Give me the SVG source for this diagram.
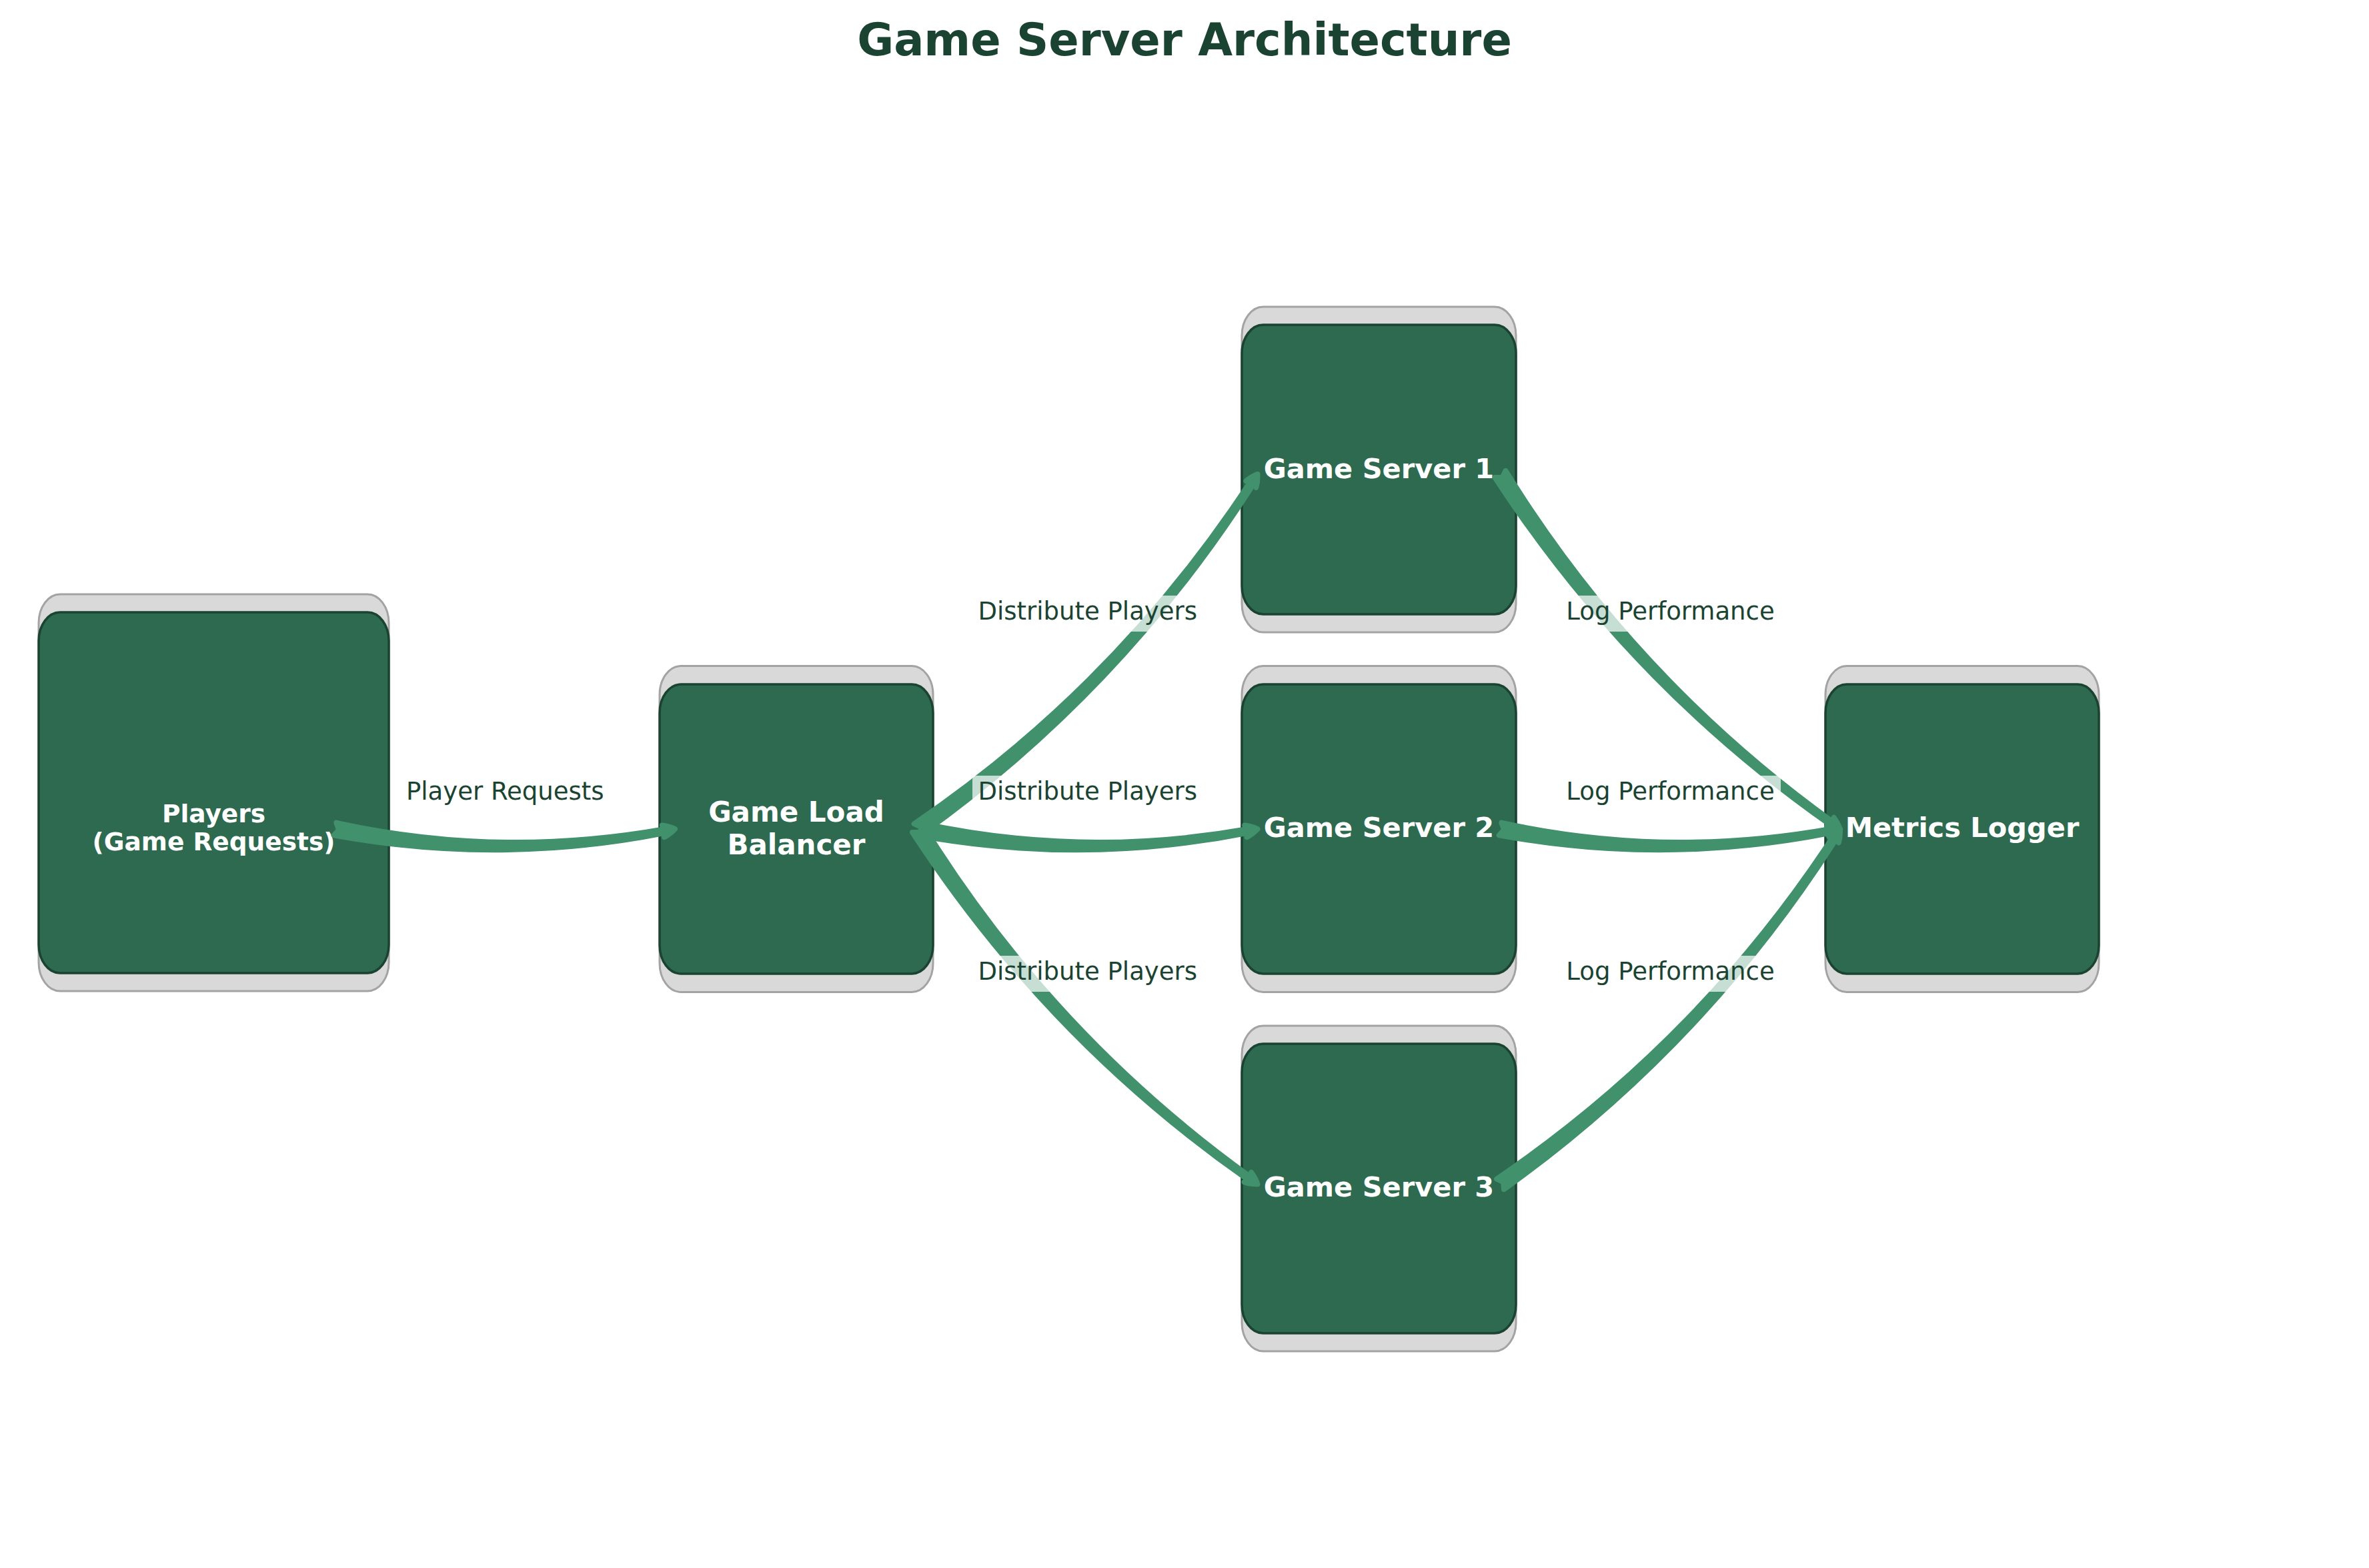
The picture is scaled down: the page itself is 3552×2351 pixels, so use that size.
<svg xmlns="http://www.w3.org/2000/svg" width="3552" height="2351" viewBox="0 0 3552 2351">
<style>
.shadow{fill:#d9d9d9;stroke:#a3a3a3;stroke-width:3}
.box{fill:#2d6a4f;stroke:#1b4332;stroke-width:3.5}
.nl{font-family:"DejaVu Sans",sans-serif;font-weight:bold;fill:#ffffff;text-anchor:middle}
.el{font-family:"DejaVu Sans",sans-serif;font-size:37px;fill:#1b4332;text-anchor:middle}
.lb{fill:#ffffff;fill-opacity:0.7}
.edge{fill:#40916c;stroke:#40916c;stroke-width:8;stroke-linejoin:round}
.title{font-family:"DejaVu Sans",sans-serif;font-weight:bold;font-size:67px;fill:#1b4332;text-anchor:middle}
</style>
<defs>
<path id="arH" d="M5.59,1.12 L-1.86,9.32 Q248.30,54.88 495.91,5.55 L493.56,12.25 Q501.87,7.90 509.5,0 Q499.48,-4.49 490.14,-5.43 L494.85,-0.05 Q247.08,44.20 1.86,-9.32 Z"/>
<path id="arU" d="M4.67,-3.26 L5.44,7.79 Q306.34,-207.68 504.12,-518.34 L507.35,-512.00 Q509.94,-521.03 509.5,-532 Q499.34,-527.84 492.21,-521.74 L499.34,-521.44 Q297.76,-214.18 -5.44,-7.79 Z"/>
<path id="arD" d="M3.06,4.81 L-8.02,5.09 Q194.21,315.26 496.09,526.53 L489.62,529.48 Q498.52,532.47 509.5,532.5 Q505.79,522.16 500.00,514.78 L499.39,521.89 Q201.07,306.98 8.02,-5.09 Z"/>
</defs>
<rect x="0" y="0" width="3552" height="2351" fill="#ffffff"/>
<text class="title" x="1776" y="83">Game Server Architecture</text>

<g id="node-players">
<rect class="shadow" x="58" y="891" width="525" height="595" rx="32" ry="43"/>
<rect class="box" x="58" y="918" width="525" height="541" rx="32" ry="43"/>
<text class="nl" x="320.5" y="1233" font-size="37.5">Players</text>
<text class="nl" x="320.5" y="1275" font-size="37.5">(Game Requests)</text>
</g>
<g id="node-load-balancer">
<rect class="shadow" x="989" y="998.5" width="410" height="489" rx="32" ry="43"/>
<rect class="box" x="989" y="1026" width="410" height="434" rx="32" ry="43"/>
<text class="nl" x="1194" y="1232" font-size="42">Game Load</text>
<text class="nl" x="1194" y="1281" font-size="42">Balancer</text>
</g>
<g id="node-game-server-1">
<rect class="shadow" x="1862" y="460" width="411" height="488" rx="32" ry="43"/>
<rect class="box" x="1862" y="487" width="411" height="434" rx="32" ry="43"/>
<text class="nl" x="2067.5" y="717" font-size="41.5">Game Server 1</text>
</g>
<g id="node-game-server-2">
<rect class="shadow" x="1862" y="998.5" width="411" height="489" rx="32" ry="43"/>
<rect class="box" x="1862" y="1026" width="411" height="434" rx="32" ry="43"/>
<text class="nl" x="2067.5" y="1255" font-size="41.5">Game Server 2</text>
</g>
<g id="node-game-server-3">
<rect class="shadow" x="1862" y="1538" width="411" height="488" rx="32" ry="43"/>
<rect class="box" x="1862" y="1565" width="411" height="434" rx="32" ry="43"/>
<text class="nl" x="2067.5" y="1794" font-size="41.5">Game Server 3</text>
</g>
<g id="node-metrics-logger">
<rect class="shadow" x="2737" y="998.5" width="410" height="489" rx="32" ry="43"/>
<rect class="box" x="2737" y="1026" width="410" height="434" rx="32" ry="43"/>
<text class="nl" x="2942" y="1255" font-size="41.5">Metrics Logger</text>
</g>

<g id="connectors">
<use class="edge" href="#arH" transform="translate(502.5,1243)"/>
<use class="edge" href="#arU" transform="translate(1376,1243)"/>
<use class="edge" href="#arH" transform="translate(1376,1243)"/>
<use class="edge" href="#arD" transform="translate(1376,1243)"/>
<use class="edge" href="#arD" transform="translate(2249.5,711)"/>
<use class="edge" href="#arH" transform="translate(2249.5,1243)"/>
<use class="edge" href="#arU" transform="translate(2249.5,1775.5)"/>
<g id="edge-labels">
<rect class="lb" x="600" y="1163" width="314" height="54" rx="6"/>
<text class="el" x="757.25" y="1199">Player Requests</text>
<rect class="lb" x="1458" y="893" width="345" height="54" rx="6"/>
<text class="el" x="1630.75" y="929">Distribute Players</text>
<rect class="lb" x="1458" y="1163" width="345" height="54" rx="6"/>
<text class="el" x="1630.75" y="1199">Distribute Players</text>
<rect class="lb" x="1458" y="1433" width="345" height="54" rx="6"/>
<text class="el" x="1630.75" y="1469">Distribute Players</text>
<rect class="lb" x="2339" y="893" width="331" height="54" rx="6"/>
<text class="el" x="2504.5" y="929">Log Performance</text>
<rect class="lb" x="2339" y="1163" width="331" height="54" rx="6"/>
<text class="el" x="2504.5" y="1199">Log Performance</text>
<rect class="lb" x="2339" y="1433" width="331" height="54" rx="6"/>
<text class="el" x="2504.5" y="1469">Log Performance</text>
</g>
</g>
</svg>
